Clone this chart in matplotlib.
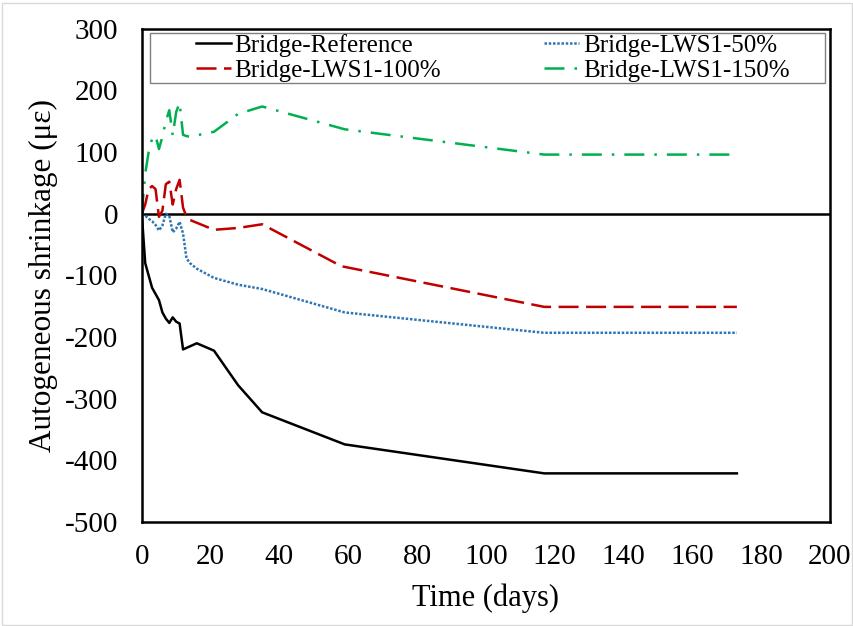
import matplotlib.pyplot as plt
from matplotlib.patches import Rectangle

plt.rcParams['font.family'] = ['Liberation Serif', 'DejaVu Serif']
plt.rcParams['axes.unicode_minus'] = False

# dados
dias_ref = [0, 1, 2, 3, 4, 5, 6, 7, 8, 9, 10, 11, 12, 14, 16, 21, 28, 35, 59, 117, 173]
ref = [0, -80, -100, -120, -130, -140, -160, -170, -177, -168, -175, -178, -220, -215, -210, -222, -278, -322, -374, -421, -421]

dias_50 = [0, 1, 2, 3, 4, 5, 6, 7, 8, 9, 10, 11, 12, 13, 14, 16, 21, 28, 35, 59, 117, 173]
lws50 = [0, -3, -8, -12, -18, -27, -19, 0, -3, -30, -24, -13, -32, -72, -80, -89, -104, -115, -122, -160, -193, -193]

dias_100 = [0, 1, 2, 3, 4, 5, 6, 7, 8, 9, 10, 11, 12, 13, 14, 21, 28, 35, 58, 117, 173]
lws100 = [0, 15, 40, 45, 40, -5, 5, 48, 52, 15, 40, 55, 10, -5, -10, -26, -23, -17, -85, -151, -151]

dias_150 = [0, 1, 2, 3, 4, 5, 6, 7, 8, 9, 10, 11, 12, 13, 14, 21, 28, 35, 59, 117, 173]
lws150 = [0, 65, 100, 122, 127, 105, 125, 150, 168, 127, 165, 180, 128, 126, 125, 133, 162, 174, 137, 96, 96]

fig = plt.figure(figsize=(8.54, 6.26), dpi=100)
ax = fig.add_axes([0.166, 0.166, 0.8056, 0.788])
fig.patches.append(Rectangle((0.002, 0.002), 0.996, 0.993, transform=fig.transFigure,
                             fill=False, edgecolor='#d9d9d9', linewidth=1))

lw = 1.8
l_ref, = ax.plot(dias_ref, ref, color='black', lw=lw, label='Bridge-Reference')
l_50, = ax.plot(dias_50, lws50, color='#2e75b6', lw=lw, linestyle=(0, (1, 0.7)), label='Bridge-LWS1-50%')
l_100, = ax.plot(dias_100, lws100, color='#c00000', lw=lw, linestyle=(0, (8, 3)), label='Bridge-LWS1-100%')
l_150, = ax.plot(dias_150, lws150, color='#00b050', lw=lw, linestyle=(0, (8, 4, 1, 4)), label='Bridge-LWS1-150%')
ax.axhline(0, color='black', lw=1.8, zorder=1)

ax.set_xlim(0, 200)
ax.set_ylim(-500, 300)
ax.set_xticks(range(0, 201, 20))
ax.set_yticks(range(-500, 301, 100))
ax.tick_params(length=0, labelsize=21)
ax.tick_params(axis='x', pad=16)
ax.tick_params(axis='y', pad=17)
for s in ax.spines.values():
    s.set_linewidth(1.8)
ax.set_xlabel('Time (days)', fontsize=22)
ax.set_ylabel('Autogeneous shrinkage (με)', fontsize=22.5)
ax.xaxis.set_label_coords(0.5, -0.125)
ax.yaxis.set_label_coords(-0.122, 0.5)

# moldura da legenda desenhada a parte
ax.add_patch(Rectangle((0.0116, 0.891), 0.982, 0.101, transform=ax.transAxes,
                       fill=False, edgecolor='#808080', linewidth=1, zorder=5))
ax.legend([l_ref, l_100, l_50, l_150],
          ['Bridge-Reference', 'Bridge-LWS1-100%', 'Bridge-LWS1-50%', 'Bridge-LWS1-150%'],
          ncol=2, loc='center', bbox_to_anchor=(0.0785, 0.895, 0.863, 0.093),
          mode='expand', borderaxespad=0, borderpad=0, fontsize=18, handlelength=1.4,
          handletextpad=0.15, labelspacing=0.1, frameon=False)

fig.savefig('out.png', dpi=100)
